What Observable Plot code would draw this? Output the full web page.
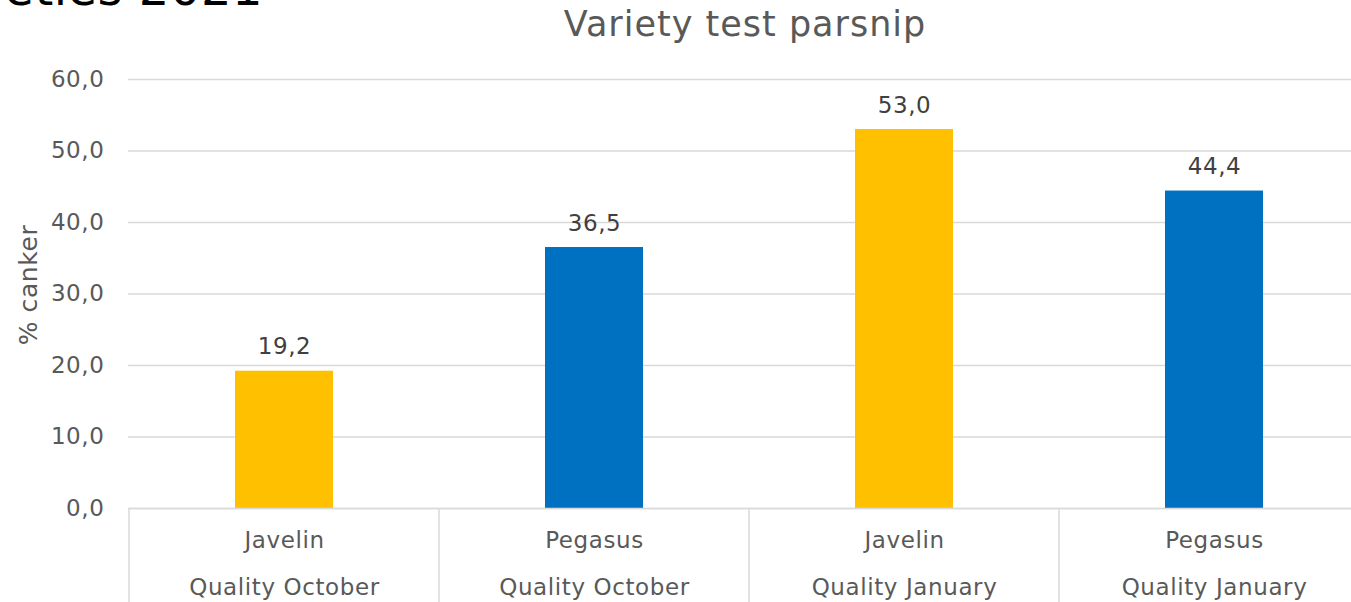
<!DOCTYPE html>
<html>
<head>
<meta charset="utf-8">
<script src="https://cdn.jsdelivr.net/npm/d3@7"></script>
<script src="https://cdn.jsdelivr.net/npm/@observablehq/plot@0.6"></script>
<style>
  html, body { margin: 0; padding: 0; background: #fff; overflow: hidden; width: 1351px; height: 602px; }
  #wrap { position: relative; width: 1351px; height: 602px; overflow: hidden; }
  #cut { position: absolute; right: calc(1351px - 263px); top: -36px; font: 48px "DejaVu Sans", sans-serif; line-height: 1; color: #000; white-space: nowrap; letter-spacing: 0.5px; }
  #title { position: absolute; left: 0; width: 1490px; top: 3px; text-align: center; font: 35px "DejaVu Sans", sans-serif; line-height: 1.2; color: #595959; letter-spacing: 1px; }
  #chart { position: absolute; left: 0; top: 0; }
</style>
</head>
<body>
<div id="wrap">
  <div id="chart"></div>
  <div id="cut">Varieties 2021</div>
  <div id="title">Variety test parsnip</div>
</div>
<script>
const varieties = ["Javelin", "Pegasus", "Javelin", "Pegasus"];
const periods = ["Quality October", "Quality October", "Quality January", "Quality January"];
const canker = [19.2, 36.5, 53.0, 44.4];
const barColors = ["#FFC000", "#0070C0", "#FFC000", "#0070C0"];
const yTicks = [0, 10, 20, 30, 40, 50, 60];
const yLabel = "% canker";

const keys = varieties.map((_, i) => i);
const data = keys.map(i => ({key: i, variety: varieties[i], period: periods[i], value: canker[i], color: barColors[i]}));
const comma = d => d.toFixed(1).replace(".", ",");

function separators(index, scales, values, dims) {
  const x = scales.x;
  const bw = x.bandwidth ? x.bandwidth() : 0;
  const step = x(1) - x(0);
  const g = d3.create("svg:g");
  const bounds = keys.map(k => x(k) + bw / 2 - step / 2);
  bounds.push(x(keys.length - 1) + bw / 2 + step / 2);
  const y0 = dims.height - dims.marginBottom;
  for (const b of bounds) {
    g.append("line").attr("x1", b).attr("x2", b).attr("y1", y0).attr("y2", dims.height)
      .attr("stroke", "#d9d9d9").attr("stroke-width", 1.5);
  }
  return g.node();
}

const chart = Plot.plot({
  width: 1351,
  height: 602,
  marginTop: 79,
  marginBottom: 94,
  marginLeft: 128,
  marginRight: 0,
  style: {fontFamily: "DejaVu Sans, sans-serif", fontSize: "23px", color: "#595959", background: "#fff", letterSpacing: "0.6px"},
  x: {type: "band", domain: keys, range: [128, 1369.2], paddingInner: 0.684, paddingOuter: 0.342},
  y: {domain: [0, 60]},
  marks: [
    Plot.gridY(yTicks, {stroke: "#d9d9d9", strokeOpacity: 1, strokeWidth: 1.5}),
    Plot.barY(data, {x: "key", y: "value", fill: "color"}),
    Plot.ruleY([0], {stroke: "#d9d9d9", strokeWidth: 1.5}),
    separators,
    Plot.text(data, {x: "key", y: "value", text: d => comma(d.value), dy: -17, lineAnchor: "bottom", fill: "#404040", fontSize: 23}),
    Plot.axisY(yTicks, {tickSize: 0, tickPadding: 24, tickFormat: comma, fontSize: 23, fill: "#595959", label: null}),
    Plot.text([yLabel], {frameAnchor: "left", rotate: -90, dx: -100, dy: -9, textAnchor: "middle", lineAnchor: "middle", fontSize: 25, fill: "#595959"}),
    Plot.axisX(keys, {tickSize: 0, tickPadding: 6, fontSize: 23, fill: "#595959", lineHeight: 2.05,
      tickFormat: k => varieties[k] + "\n" + periods[k], label: null})
  ]
});
document.getElementById("chart").appendChild(chart);
</script>
</body>
</html>
